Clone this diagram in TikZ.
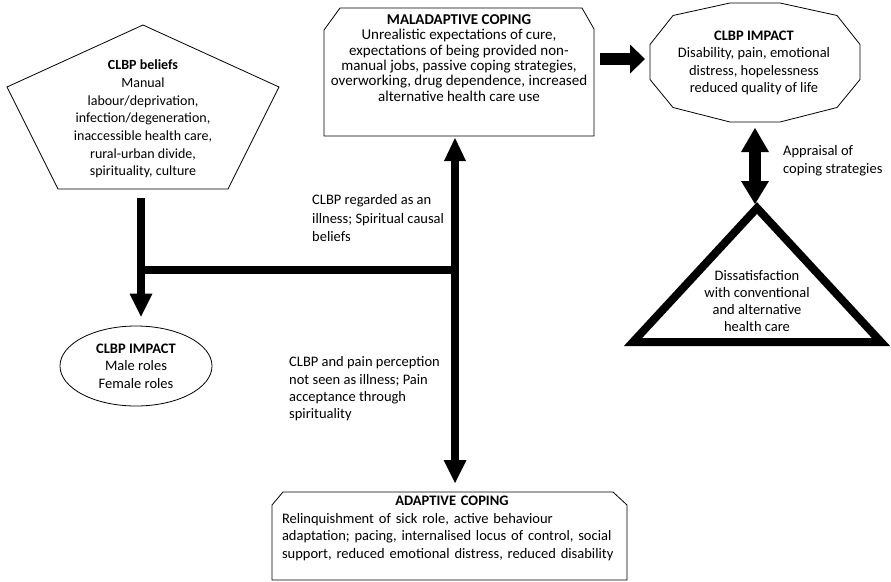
\documentclass[tikz,border=0pt]{standalone}
\usepackage{fontspec}
\setmainfont{Carlito}
\usetikzlibrary{arrows.meta,shapes.geometric}
\begin{document}
\begin{tikzpicture}[x=1pt,y=-1pt,
  outline/.style={draw=black, line width=0.8pt, line join=miter},
  frame/.style={inner sep=0pt, outer sep=0pt, draw=none},
  txt/.style={inner sep=0pt, align=center, font=\fontsize{14.5pt}{17.5pt}\selectfont},
  fat/.style={line width=8pt, draw=black},
  fatter/.style={line width=12pt, draw=black}
]
\useasboundingbox (0,0) rectangle (891,581);

% CLBP beliefs (pentagon)
\node[frame, minimum width=272pt, minimum height=164pt] (bel) at (143,107) {};
\draw[outline, shift={(bel.center)}] (0,-82) -- (136,-20) -- (85,82) -- (-85,82) -- (-136,-20) -- cycle;
\node[txt, font=\fontsize{14pt}{17.7pt}\selectfont] (belt) at (143,119)
  {\textbf{CLBP beliefs}\\Manual\\labour/deprivation,\\infection/degeneration,\\inaccessible health care,\\rural-urban divide,\\spirituality, culture};

% CLBP impact (ellipse)
\node[ellipse, outline, txt, minimum width=152pt, minimum height=80pt] (imp1) at (136,366)
  {\textbf{CLBP IMPACT}\\Male roles\\Female roles};

% Maladaptive coping
\node[frame, minimum width=270pt, minimum height=128pt] (mal) at (459,72) {};
\draw[outline, shift={(mal.center)}] (-135,-42) -- (-119,-64) -- (123,-64) -- (135,-43) -- (135,64) -- (-135,64) -- cycle;
\node[txt, font=\fontsize{15pt}{15.4pt}\selectfont] (malt) at (459,58)
  {\textbf{MALADAPTIVE COPING}\\Unrealistic expectations of cure,\\expectations of being provided non-\\manual jobs, passive coping strategies,\\overworking, drug dependence, increased\\alternative health care use};

% CLBP impact (dodecagon)
\node[frame, minimum width=210pt, minimum height=119pt] (imp2) at (755,62.5) {};
\draw[outline, shift={(imp2.center)}] (-25,-59.5) -- (25,-59.5) -- (82,-47) -- (105,-18) -- (105,17) -- (82,45) -- (25,59.5) -- (-25,59.5) -- (-82,45) -- (-105,17) -- (-105,-18) -- (-82,-47) -- cycle;
\node[txt, font=\fontsize{14.5pt}{17.3pt}\selectfont] (imp2t) at (754,63)
  {\textbf{CLBP IMPACT}\\Disability, pain, emotional\\distress, hopelessness\\reduced quality of life};

% Dissatisfaction (triangle)
\node[frame, minimum width=248pt, minimum height=134pt] (dis) at (757,275) {};
\draw[line width=8pt, line join=miter, shift={(dis.center)}] (0,-67) -- (124,67) -- (-124,67) -- cycle;
\node[txt, font=\fontsize{14.5pt}{17.3pt}\selectfont] (dist) at (757,301)
  {Dissatisfaction\\with conventional\\and alternative\\health care};

% Adaptive coping
\node[frame, minimum width=355pt, minimum height=88pt] (adp) at (449.5,536) {};
\draw[outline, shift={(adp.center)}] (-177.5,-31) -- (-166.5,-44) -- (163.5,-44) -- (177.5,-31) -- (177.5,44) -- (-177.5,44) -- cycle;
\node[inner sep=0pt, text width=340pt, align=left, font=\fontsize{14.5pt}{17.7pt}\selectfont] (adpt) at (452,528.5)
  {{\centering\textbf{ADAPTIVE COPING}\par}Relinquishment of sick role, active behaviour\\adaptation; pacing, internalised locus of control, social\\support, reduced emotional distress, reduced disability};

% labels
\node[txt, align=left, anchor=west, font=\fontsize{14.5pt}{18.5pt}\selectfont] (lab1) at (312,218.5)
  {CLBP regarded as an\\illness; Spiritual causal\\beliefs};
\node[txt, align=left, anchor=west, font=\fontsize{14.5pt}{17.3pt}\selectfont] (lab2) at (289,389)
  {CLBP and pain perception\\not seen as illness; Pain\\acceptance through\\spirituality};
\node[txt, align=left, anchor=west, font=\fontsize{14.5pt}{18pt}\selectfont] (lab3) at (783,161)
  {Appraisal of\\coping strategies};

% connectors
\coordinate (jl) at (141,270);
\coordinate (jr) at (455,270);
\coordinate (ay) at (620,59);
\draw[fat, -{Triangle[length=23pt,width=23pt,line width=0pt]}, shorten <=9pt, shorten >=9pt] (jl |- bel.south) -- (jl |- imp1.north);
\draw[fat] (jl) -- (jr);
\draw[fat, {Triangle[length=23pt,width=22pt,line width=0pt]}-{Triangle[length=23pt,width=23pt,line width=0pt]}, shorten <=2pt, shorten >=9pt] (jr |- mal.south) -- (jr |- adp.north);
\draw[fatter, -{Triangle[length=15pt,width=29pt,line width=0pt]}, shorten <=6pt, shorten >=5pt] (mal.east |- ay) -- (imp2.west |- ay);
\draw[fatter, {Triangle[length=24pt,width=28pt,line width=0pt]}-{Triangle[length=23pt,width=28pt,line width=0pt]}, shorten <=6pt, shorten >=4pt] (imp2.south) -- (imp2.south |- dis.north);
\end{tikzpicture}
\end{document}
